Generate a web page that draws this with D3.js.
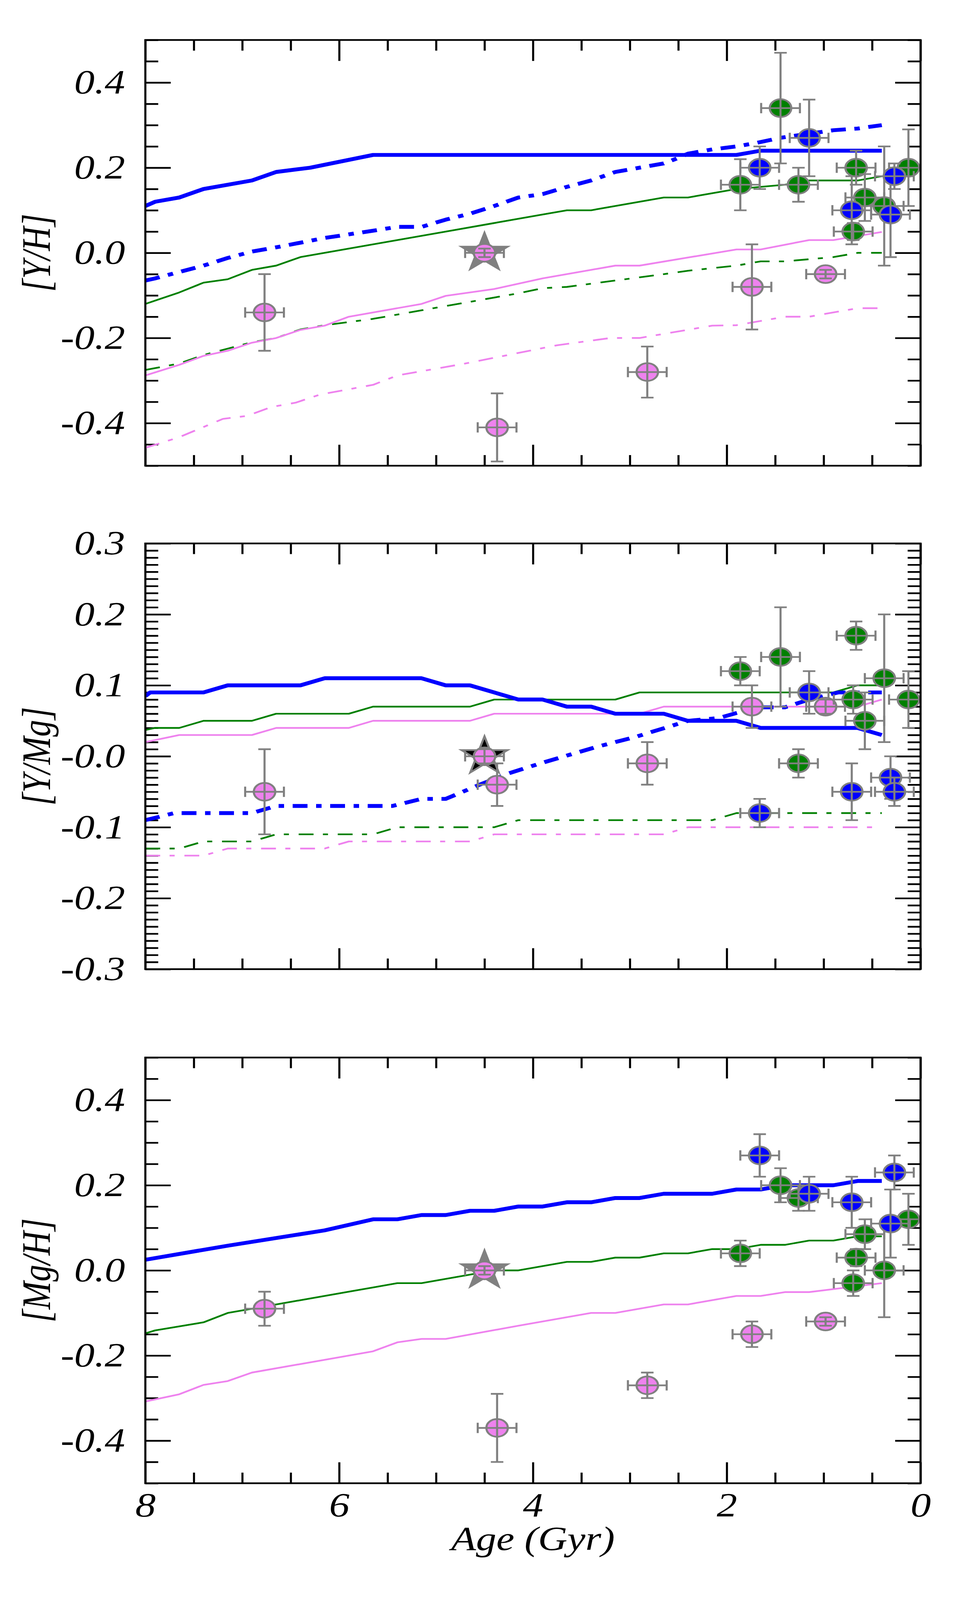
<!DOCTYPE html>
<html>
<head>
<meta charset="utf-8">
<script src="https://cdn.jsdelivr.net/npm/d3@7"></script>
<style>
  html, body { margin: 0; padding: 0; background: #fff; overflow: hidden; }
  svg { display: block; width: 100vw; height: 100vh; }
  svg text { font-family: "Liberation Serif", "DejaVu Serif", serif; font-style: italic; }
</style>
</head>
<body>
<div id="chart"></div>
<script>
// ---- axis ticks ----
const xMajor = [8, 6, 4, 2, 0];
const xTickLabels = ['8', '6', '4', '2', '0'];
const yhTicks = [0.4, 0.2, 0.0, -0.2, -0.4];
const yhTickLabels = ['0.4', '0.2', '0.0', '-0.2', '-0.4'];
const ymgTicks = [0.3, 0.2, 0.1, 0.0, -0.1, -0.2, -0.3];
const ymgTickLabels = ['0.3', '0.2', '0.1', '-0.0', '-0.1', '-0.2', '-0.3'];
const mghTicks = [0.4, 0.2, 0.0, -0.2, -0.4];
const mghTickLabels = ['0.4', '0.2', '0.0', '-0.2', '-0.4'];

// ---- stars (age in Gyr) ----
const starGroup = ['violet', 'violet', 'violet', 'violet', 'violet',
  'green', 'green', 'green', 'green', 'green', 'green', 'green', 'green',
  'blue', 'blue', 'blue', 'blue', 'blue'];
const starAge = [6.77, 4.37, 2.82, 1.74, 0.98, 1.86, 1.445, 1.26, 0.665, 0.695, 0.575, 0.375, 0.125, 1.66, 1.15, 0.71, 0.31, 0.27];
const starAgeErr = [0.2, 0.2, 0.2, 0.2, 0.2, 0.2, 0.2, 0.2, 0.2, 0.2, 0.2, 0.2, 0.2, 0.2, 0.2, 0.2, 0.2, 0.2];
const yhVal = [-0.14, -0.41, -0.28, -0.08, -0.05, 0.16, 0.34, 0.16, 0.20, 0.05, 0.13, 0.11, 0.20, 0.20, 0.27, 0.10, 0.09, 0.18];
const yhErr = [0.09, 0.08, 0.06, 0.10, 0.01, 0.06, 0.13, 0.04, 0.04, 0.02, 0.055, 0.14, 0.09, 0.05, 0.09, 0.08, 0.10, 0.03];
const ymgVal = [-0.05, -0.04, -0.01, 0.07, 0.07, 0.12, 0.14, -0.01, 0.17, 0.08, 0.05, 0.11, 0.08, -0.08, 0.09, -0.05, -0.03, -0.05];
const ymgErr = [0.06, 0.03, 0.03, 0.03, 0.01, 0.02, 0.07, 0.02, 0.02, 0.02, 0.04, 0.09, 0.04, 0.02, 0.03, 0.04, 0.03, 0.02];
const mghVal = [-0.09, -0.37, -0.27, -0.15, -0.12, 0.04, 0.20, 0.17, 0.03, -0.03, 0.085, 0.00, 0.12, 0.27, 0.18, 0.16, 0.11, 0.23];
const mghErr = [0.04, 0.08, 0.03, 0.03, 0.01, 0.03, 0.04, 0.03, 0.02, 0.03, 0.035, 0.11, 0.06, 0.05, 0.04, 0.06, 0.08, 0.04];

// ---- Sun ----
const sunAge = 4.5;
const sunAgeErr = 0.2;
const sunVal = [0.0, 0.0, 0.0];
const sunErr = [0.01, 0.01, 0.01];

// ---- model tracks [age, value] ----
const yhBlueSolid = [[8.0, 0.11], [7.9, 0.12], [7.65, 0.13], [7.4, 0.15], [6.9, 0.17], [6.65, 0.19], [6.3, 0.20], [5.65, 0.23], [1.9, 0.23], [1.65, 0.24], [0.4, 0.24]];
const yhBlueDash = [[8.0, -0.065], [7.9, -0.06], [7.65, -0.045], [7.4, -0.03], [7.15, -0.012], [6.9, 0.003], [6.6, 0.015], [6.15, 0.035], [5.65, 0.052], [5.4, 0.061], [5.15, 0.061], [4.9, 0.078], [4.65, 0.092], [4.4, 0.11], [4.15, 0.13], [3.9, 0.138], [3.65, 0.155], [3.4, 0.17], [3.15, 0.19], [2.65, 0.21], [2.5, 0.223], [2.4, 0.233], [2.15, 0.243], [1.9, 0.25], [1.7, 0.258], [1.45, 0.27], [1.15, 0.28], [0.9, 0.288], [0.65, 0.292], [0.4, 0.30]];
const yhGreenSolid = [[8.0, -0.12], [7.65, -0.093], [7.4, -0.07], [7.15, -0.062], [6.9, -0.04], [6.65, -0.03], [6.4, -0.01], [5.9, 0.01], [5.4, 0.03], [4.9, 0.05], [4.4, 0.07], [3.9, 0.09], [3.65, 0.10], [3.4, 0.10], [2.65, 0.13], [2.4, 0.13], [1.9, 0.15], [1.4, 0.16], [1.15, 0.17], [0.65, 0.17], [0.4, 0.18]];
const yhGreenDash = [[8.0, -0.275], [7.65, -0.26], [7.4, -0.24], [7.15, -0.225], [6.9, -0.21], [6.65, -0.2], [6.4, -0.18], [6.15, -0.17], [5.65, -0.155], [5.15, -0.135], [4.65, -0.115], [4.15, -0.095], [3.9, -0.083], [3.65, -0.08], [3.15, -0.065], [2.65, -0.05], [2.4, -0.042], [1.9, -0.03], [1.65, -0.02], [1.4, -0.02], [0.9, -0.01], [0.65, 0.0], [0.4, 0.0]];
const yhVioletSolid = [[8.0, -0.288], [7.65, -0.263], [7.4, -0.242], [7.15, -0.23], [6.9, -0.211], [6.65, -0.2], [6.4, -0.181], [6.15, -0.171], [5.9, -0.15], [5.15, -0.12], [4.9, -0.101], [4.4, -0.085], [3.9, -0.06], [3.4, -0.04], [3.15, -0.03], [2.9, -0.03], [1.9, 0.008], [1.65, 0.008], [1.15, 0.03], [0.9, 0.03], [0.4, 0.049]];
const yhVioletDash = [[8.0, -0.458], [7.65, -0.433], [7.2, -0.39], [6.95, -0.383], [6.7, -0.362], [6.45, -0.352], [6.2, -0.333], [5.65, -0.31], [5.4, -0.288], [4.7, -0.26], [3.75, -0.217], [3.2, -0.2], [2.9, -0.2], [2.15, -0.171], [1.9, -0.17], [1.4, -0.15], [1.15, -0.15], [0.65, -0.13], [0.4, -0.13]];

const ymgBlueSolid = [[8.0, 0.085], [7.95, 0.09], [7.4, 0.09], [7.15, 0.10], [6.4, 0.10], [6.15, 0.11], [5.15, 0.11], [4.9, 0.10], [4.65, 0.10], [4.4, 0.09], [4.15, 0.08], [3.9, 0.08], [3.65, 0.07], [3.4, 0.07], [3.15, 0.06], [2.65, 0.06], [2.4, 0.05], [1.9, 0.05], [1.65, 0.04], [0.65, 0.04], [0.4, 0.03]];
const ymgBlueDash = [[8.0, -0.09], [7.7, -0.08], [6.9, -0.08], [6.65, -0.07], [5.45, -0.07], [5.15, -0.06], [4.9, -0.06], [4.55, -0.04], [4.25, -0.024], [3.9, -0.009], [3.35, 0.013], [2.95, 0.027], [2.4, 0.05], [2.08, 0.054], [1.9, 0.061], [1.65, 0.069], [1.4, 0.069], [1.15, 0.08], [0.85, 0.09], [0.4, 0.09]];
const ymgGreenSolid = [[8.0, 0.037], [7.9, 0.04], [7.65, 0.04], [7.4, 0.05], [6.9, 0.05], [6.65, 0.06], [5.9, 0.06], [5.65, 0.07], [4.65, 0.07], [4.4, 0.08], [3.15, 0.08], [2.9, 0.09], [0.9, 0.09], [0.65, 0.10], [0.4, 0.10]];
const ymgGreenDash = [[8.0, -0.13], [7.65, -0.13], [7.4, -0.12], [6.9, -0.12], [6.65, -0.11], [5.65, -0.11], [5.4, -0.10], [4.4, -0.10], [4.15, -0.09], [2.15, -0.09], [1.9, -0.08], [0.4, -0.08]];
const ymgVioletSolid = [[8.0, 0.02], [7.65, 0.03], [6.9, 0.03], [6.65, 0.04], [5.9, 0.04], [5.65, 0.05], [4.65, 0.05], [4.4, 0.06], [2.9, 0.06], [2.65, 0.07], [0.65, 0.07], [0.4, 0.08]];
const ymgVioletDash = [[8.0, -0.14], [7.4, -0.14], [7.15, -0.13], [6.15, -0.13], [5.9, -0.12], [4.65, -0.12], [4.4, -0.11], [2.65, -0.11], [2.4, -0.10], [0.4, -0.10]];

const mghBlueSolid = [[8.0, 0.025], [7.15, 0.058], [6.15, 0.094], [5.65, 0.12], [5.4, 0.12], [5.15, 0.13], [4.9, 0.13], [4.65, 0.14], [4.4, 0.14], [4.15, 0.15], [3.9, 0.15], [3.65, 0.16], [3.4, 0.16], [3.15, 0.17], [2.9, 0.17], [2.65, 0.18], [2.15, 0.18], [1.9, 0.19], [1.65, 0.19], [1.4, 0.20], [0.9, 0.20], [0.65, 0.21], [0.4, 0.21]];
const mghGreenSolid = [[8.0, -0.148], [7.9, -0.141], [7.4, -0.122], [7.15, -0.10], [6.9, -0.09], [5.65, -0.04], [5.4, -0.03], [5.15, -0.03], [4.4, 0.0], [4.15, 0.0], [3.65, 0.02], [3.4, 0.02], [3.15, 0.03], [2.9, 0.03], [2.65, 0.04], [2.4, 0.04], [2.15, 0.05], [1.9, 0.05], [1.65, 0.06], [1.4, 0.06], [1.15, 0.07], [0.9, 0.07], [0.65, 0.08], [0.4, 0.08]];
const mghVioletSolid = [[8.0, -0.308], [7.65, -0.291], [7.4, -0.269], [7.15, -0.26], [6.9, -0.24], [5.65, -0.19], [5.4, -0.169], [5.15, -0.161], [4.9, -0.161], [4.15, -0.13], [3.4, -0.10], [3.15, -0.10], [2.65, -0.08], [2.4, -0.08], [1.9, -0.06], [1.65, -0.06], [1.4, -0.051], [1.15, -0.051], [0.4, -0.03]];

// ---- layout / style ----
const W = 2480, H = 4961;
const plotLeft = 372, plotRight = 2356, plotH = 1320;
const fontSize = 104;
const lw = 5.3;
const colors = { violet: '#ee82ee', green: '#008000', blue: '#0000ff' };
const dashThick = '38,22,14,22';
const dashThin = '38,24,13,25';

const panels = [
  {
    top: 124, label: '[Y/H]', domain: [-0.5, 0.5], minorStep: 0.05,
    ticks: yhTicks, tickLabels: yhTickLabels, vals: yhVal, errs: yhErr, sunFill: '#808080',
    lines: [
      { data: yhVioletDash, color: colors.violet, w: lw, dash: dashThin },
      { data: yhGreenDash, color: colors.green, w: lw, dash: dashThin },
      { data: yhVioletSolid, color: colors.violet, w: lw },
      { data: yhGreenSolid, color: colors.green, w: lw },
      { data: yhBlueDash, color: colors.blue, w: 12, dash: dashThick },
      { data: yhBlueSolid, color: colors.blue, w: 12 }
    ]
  },
  {
    top: 1685, label: '[Y/Mg]', domain: [-0.3, 0.3], minorStep: 0.01,
    ticks: ymgTicks, tickLabels: ymgTickLabels, vals: ymgVal, errs: ymgErr, sunFill: '#000000',
    lines: [
      { data: ymgVioletDash, color: colors.violet, w: lw, dash: dashThin },
      { data: ymgGreenDash, color: colors.green, w: lw, dash: dashThin },
      { data: ymgVioletSolid, color: colors.violet, w: lw },
      { data: ymgGreenSolid, color: colors.green, w: lw },
      { data: ymgBlueDash, color: colors.blue, w: 12, dash: dashThick },
      { data: ymgBlueSolid, color: colors.blue, w: 12 }
    ]
  },
  {
    top: 3279, label: '[Mg/H]', domain: [-0.5, 0.5], minorStep: 0.05,
    ticks: mghTicks, tickLabels: mghTickLabels, vals: mghVal, errs: mghErr, sunFill: '#808080',
    xLabels: true,
    lines: [
      { data: mghVioletSolid, color: colors.violet, w: lw },
      { data: mghGreenSolid, color: colors.green, w: lw },
      { data: mghBlueSolid, color: colors.blue, w: 12 }
    ]
  }
];

// the svg fills the window whatever size it really gets
const svg = d3.select('#chart').append('svg')
  .attr('viewBox', `0 0 ${W} ${H}`)
  .attr('preserveAspectRatio', 'none');
svg.append('rect').attr('width', W).attr('height', H).attr('fill', '#fff');

const x = d3.scaleLinear().domain([8, 0]).range([plotLeft, plotRight]);
const xMinor = d3.range(0.5, 8, 0.5).filter(v => v % 2 !== 0);

function styleAxis(g) {
  g.select('.domain').remove();
  g.attr('font-size', fontSize).attr('font-family', null);
  g.selectAll('line').attr('stroke', '#000').attr('stroke-width', lw);
  g.selectAll('text').attr('fill', '#000');
}

function drawErrorbar(g, cx, cy, x0, x1, y0, y1) {
  const cap = 16;
  const bars = [
    [x0, cy, x1, cy], [cx, y0, cx, y1],
    [x0, cy - cap, x0, cy + cap], [x1, cy - cap, x1, cy + cap],
    [cx - cap, y0, cx + cap, y0], [cx - cap, y1, cx + cap, y1]
  ];
  bars.forEach(b => {
    g.append('line')
      .attr('x1', b[0]).attr('y1', b[1]).attr('x2', b[2]).attr('y2', b[3])
      .attr('stroke', '#808080').attr('stroke-width', lw);
  });
}

function drawPoint(g, y, age, ageErr, val, err, fill) {
  const cx = x(age), cy = y(val);
  g.append('circle')
    .attr('cx', cx).attr('cy', cy).attr('r', 27.5)
    .attr('fill', fill).attr('stroke', '#808080').attr('stroke-width', 5.5);
  drawErrorbar(g, cx, cy, x(age + ageErr), x(age - ageErr), y(val + err), y(val - err));
}

panels.forEach((p, idx) => {
  const bottom = p.top + plotH;
  const y = d3.scaleLinear().domain(p.domain).range([bottom, p.top]);
  const yMinor = d3.range(p.domain[0], p.domain[1] + 1e-9, p.minorStep)
    .filter(v => !p.ticks.some(t => Math.abs(t - v) < 1e-6));

  const clipId = 'clip' + idx;
  svg.append('clipPath').attr('id', clipId).append('rect')
    .attr('x', plotLeft).attr('y', p.top)
    .attr('width', plotRight - plotLeft).attr('height', plotH);

  // ticks on all four sides, pointing inward
  const xLabelFmt = p.xLabels ? (d => xTickLabels[xMajor.indexOf(d)]) : (() => '');
  svg.append('g').attr('transform', `translate(0,${bottom})`)
    .call(d3.axisBottom(x).tickValues(xMajor).tickSize(-65).tickPadding(29).tickFormat(xLabelFmt))
    .call(styleAxis);
  svg.append('g').attr('transform', `translate(0,${bottom})`)
    .call(d3.axisBottom(x).tickValues(xMinor).tickSize(-33).tickFormat(() => ''))
    .call(styleAxis);
  svg.append('g').attr('transform', `translate(0,${p.top})`)
    .call(d3.axisTop(x).tickValues(xMajor).tickSize(-65).tickFormat(() => ''))
    .call(styleAxis);
  svg.append('g').attr('transform', `translate(0,${p.top})`)
    .call(d3.axisTop(x).tickValues(xMinor).tickSize(-33).tickFormat(() => ''))
    .call(styleAxis);
  svg.append('g').attr('transform', `translate(${plotLeft},0)`)
    .call(d3.axisLeft(y).tickValues(p.ticks).tickSize(-65).tickPadding(52)
      .tickFormat(d => p.tickLabels[p.ticks.indexOf(d)]))
    .call(styleAxis);
  svg.append('g').attr('transform', `translate(${plotLeft},0)`)
    .call(d3.axisLeft(y).tickValues(yMinor).tickSize(-33).tickFormat(() => ''))
    .call(styleAxis);
  svg.append('g').attr('transform', `translate(${plotRight},0)`)
    .call(d3.axisRight(y).tickValues(p.ticks).tickSize(-65).tickFormat(() => ''))
    .call(styleAxis);
  svg.append('g').attr('transform', `translate(${plotRight},0)`)
    .call(d3.axisRight(y).tickValues(yMinor).tickSize(-33).tickFormat(() => ''))
    .call(styleAxis);

  const plot = svg.append('g').attr('clip-path', `url(#${clipId})`);

  // model tracks
  const line = d3.line().x(d => x(d[0])).y(d => y(d[1]));
  p.lines.forEach(l => {
    plot.append('path').datum(l.data)
      .attr('d', line)
      .attr('fill', 'none')
      .attr('stroke', l.color)
      .attr('stroke-width', l.w)
      .attr('stroke-linejoin', 'round')
      .attr('stroke-dasharray', l.dash || null);
  });

  // Sun
  const sunY = sunVal[idx];
  plot.append('path')
    .attr('d', d3.symbol().type(d3.symbolStar).size(4300)())
    .attr('transform', `translate(${x(sunAge)},${y(sunY)})`)
    .attr('fill', p.sunFill).attr('stroke', '#808080').attr('stroke-width', 5.5)
    .attr('stroke-linejoin', 'miter');
  drawPoint(plot, y, sunAge, sunAgeErr, sunY, sunErr[idx], colors.violet);

  // stars
  ['violet', 'green', 'blue'].forEach(grp => {
    starGroup.forEach((sg, i) => {
      if (sg !== grp) return;
      drawPoint(plot, y, starAge[i], starAgeErr[i], p.vals[i], p.errs[i], colors[grp]);
    });
  });

  // frame
  svg.append('rect')
    .attr('x', plotLeft).attr('y', p.top)
    .attr('width', plotRight - plotLeft).attr('height', plotH)
    .attr('fill', 'none').attr('stroke', '#000').attr('stroke-width', lw);

  // y label
  const cy = p.top + plotH / 2;
  svg.append('text')
    .attr('transform', `translate(128,${cy}) rotate(-90)`)
    .attr('text-anchor', 'middle')
    .attr('font-size', fontSize)
    .text(p.label);
});

svg.append('text')
  .attr('x', (plotLeft + plotRight) / 2).attr('y', 4806)
  .attr('text-anchor', 'middle')
  .attr('font-size', fontSize)
  .text('Age (Gyr)');
</script>
</body>
</html>
